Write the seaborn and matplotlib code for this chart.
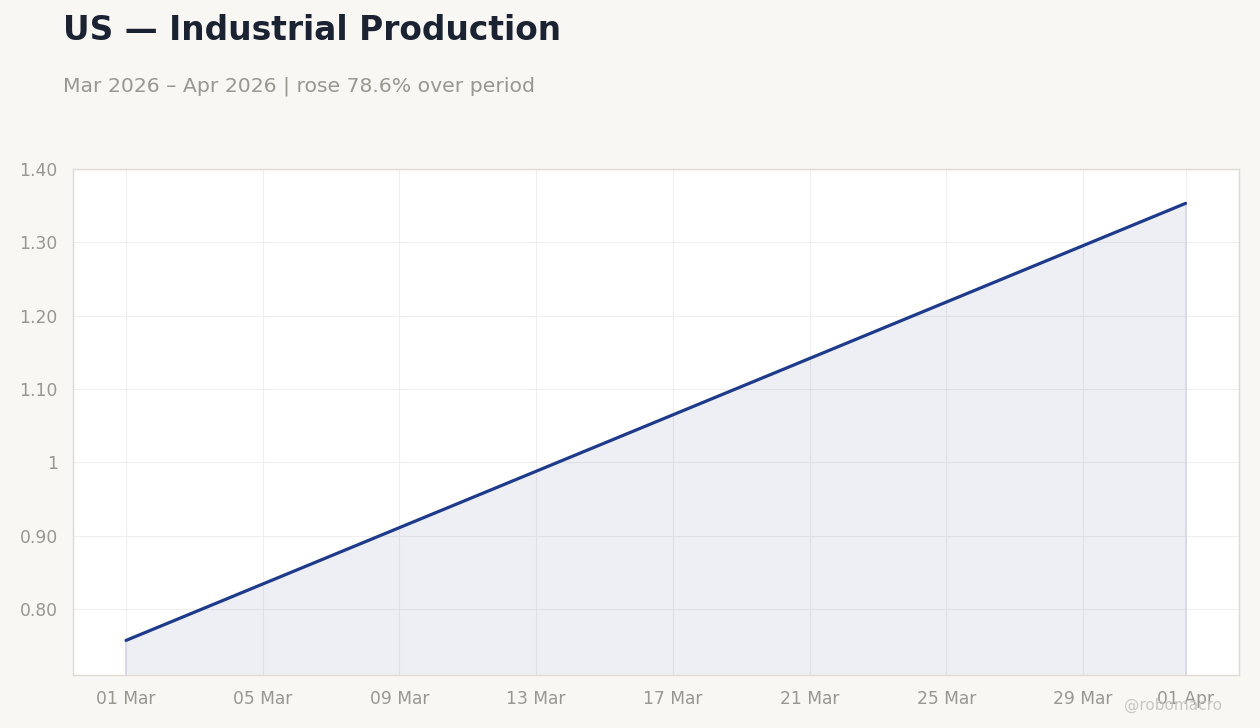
import pandas as pd
import matplotlib
matplotlib.use("Agg")
import matplotlib.pyplot as plt
import matplotlib.dates as mdates
from matplotlib.ticker import FuncFormatter
import seaborn as sns

# ---------------- data ----------------
dates = ["2026-03-01", "2026-04-01"]
values = [0.757, 1.353]
tick_dates = ["2026-03-01", "2026-03-05", "2026-03-09", "2026-03-13", "2026-03-17",
              "2026-03-21", "2026-03-25", "2026-03-29", "2026-04-01"]
y_ticks = [0.80, 0.90, 1.00, 1.10, 1.20, 1.30, 1.40]

TITLE = "US — Industrial Production"
SUBTITLE = "Mar 2026 – Apr 2026 | rose 78.6% over period"
WATERMARK = "@robomacro"

# ---------------- style ----------------
BG = "#f8f7f4"
LINE = "#1e3a8a"
MUTED = "#9a9690"
SPINE = "#dedad5"

df = pd.DataFrame({"date": pd.to_datetime(dates), "value": values})

sns.set_theme(style="white")
plt.rcParams["font.family"] = ["DejaVu Sans"]

fig = plt.figure(figsize=(12.6, 7.28), dpi=100, facecolor=BG)
ax = fig.add_axes([0.058, 0.073, 0.925, 0.695])
ax.set_facecolor("white")

YMIN = 0.71
ax.fill_between(df["date"], df["value"], YMIN - 1, color=LINE, alpha=0.08, linewidth=0)
ends = df.iloc[[0, -1]]
ax.vlines(ends["date"], YMIN - 1, ends["value"], color="#d3d6e8", lw=1.2, zorder=2)
sns.lineplot(data=df, x="date", y="value", ax=ax, color=LINE, linewidth=2.3, zorder=3)

ax.set_ylim(YMIN, 1.40)
x0, x1 = df["date"].iloc[0], df["date"].iloc[-1]
ax.set_xlim(x0 - pd.Timedelta(days=1.55), x1 + pd.Timedelta(days=1.55))
ax.set_xticks(pd.to_datetime(tick_dates))
ax.xaxis.set_major_formatter(mdates.DateFormatter("%d %b"))
ax.set_yticks(y_ticks)
ax.yaxis.set_major_formatter(FuncFormatter(lambda v, p: "1" if abs(v - 1) < 1e-9 else f"{v:.2f}"))
ax.set_xlabel("")
ax.set_ylabel("")

ax.grid(True, color="#f0efed", linewidth=0.8)
ax.set_axisbelow(True)
for s in ax.spines.values():
    s.set_color(SPINE)
    s.set_linewidth(1)
ax.tick_params(axis="both", colors=MUTED, labelsize=12.3, length=5, width=1, pad=6)

fig.text(0.05, 0.958, TITLE, fontsize=23.7, fontweight="bold", color="#1b2333", va="center")
fig.text(0.05, 0.881, SUBTITLE, fontsize=14.65, color=MUTED, va="center")
fig.text(0.97, 0.031, WATERMARK, fontsize=11, color="#c9c6c2", ha="right", va="center")

fig.savefig("out.png", dpi=100, facecolor=BG)
